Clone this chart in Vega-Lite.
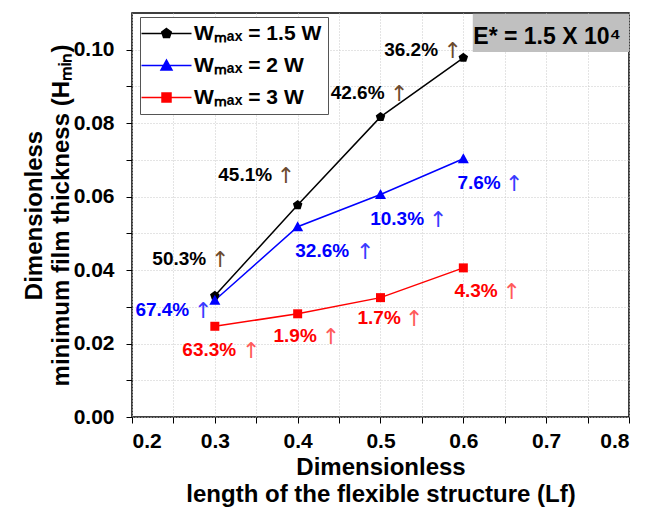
{
  "$schema": "https://vega.github.io/schema/vega-lite/v6.json",
  "width": 497,
  "height": 404,
  "autosize": "none",
  "padding": {"left": 132, "top": 13, "right": 20, "bottom": 92},
  "background": "white",
  "config": {
    "font": "Liberation Sans",
    "view": {"stroke": "black", "strokeWidth": 1.5},
    "axis": {
      "labelFont": "Liberation Sans", "labelFontSize": 21, "labelFontWeight": "bold", "labelColor": "black",
      "titleFont": "Liberation Sans", "titleFontSize": 24, "titleFontWeight": "bold", "titleColor": "black",
      "tickColor": "black", "tickSize": 6, "domain": false,
      "grid": true, "gridColor": "#c8c8c8", "gridDash": [1, 2], "gridWidth": 1
    }
  },
  "datasets": {
    "pts": [
      {"series": "Wₘₐₓ = 1.5 W", "x": 0.3, "y": 0.033},
      {"series": "Wₘₐₓ = 1.5 W", "x": 0.4, "y": 0.0577},
      {"series": "Wₘₐₓ = 1.5 W", "x": 0.5, "y": 0.0817},
      {"series": "Wₘₐₓ = 1.5 W", "x": 0.6, "y": 0.0978},
      {"series": "Wₘₐₓ = 2 W", "x": 0.3, "y": 0.0318},
      {"series": "Wₘₐₓ = 2 W", "x": 0.4, "y": 0.0518},
      {"series": "Wₘₐₓ = 2 W", "x": 0.5, "y": 0.0606},
      {"series": "Wₘₐₓ = 2 W", "x": 0.6, "y": 0.0703},
      {"series": "Wₘₐₓ = 3 W", "x": 0.3, "y": 0.0247},
      {"series": "Wₘₐₓ = 3 W", "x": 0.4, "y": 0.0281},
      {"series": "Wₘₐₓ = 3 W", "x": 0.5, "y": 0.0325},
      {"series": "Wₘₐₓ = 3 W", "x": 0.6, "y": 0.0406}
    ],
    "labels": [
      {"series": "Wₘₐₓ = 1.5 W", "label": "36.2%", "lx": 0.537, "ly": 0.0999, "ax": 0.5873},
      {"series": "Wₘₐₓ = 1.5 W", "label": "42.6%", "lx": 0.4724, "ly": 0.0882, "ax": 0.5225},
      {"series": "Wₘₐₓ = 1.5 W", "label": "45.1%", "lx": 0.3367, "ly": 0.0659, "ax": 0.3858},
      {"series": "Wₘₐₓ = 1.5 W", "label": "50.3%", "lx": 0.2571, "ly": 0.043, "ax": 0.3065},
      {"series": "Wₘₐₓ = 2 W", "label": "67.4%", "lx": 0.2366, "ly": 0.0291, "ax": 0.286},
      {"series": "Wₘₐₓ = 2 W", "label": "32.6%", "lx": 0.4296, "ly": 0.0453, "ax": 0.4815},
      {"series": "Wₘₐₓ = 2 W", "label": "10.3%", "lx": 0.5201, "ly": 0.0539, "ax": 0.5696},
      {"series": "Wₘₐₓ = 2 W", "label": "7.6%", "lx": 0.619, "ly": 0.0637, "ax": 0.6613},
      {"series": "Wₘₐₓ = 3 W", "label": "63.3%", "lx": 0.2933, "ly": 0.0182, "ax": 0.344},
      {"series": "Wₘₐₓ = 3 W", "label": "1.9%", "lx": 0.397, "ly": 0.022, "ax": 0.4401},
      {"series": "Wₘₐₓ = 3 W", "label": "1.7%", "lx": 0.4984, "ly": 0.0269, "ax": 0.5406},
      {"series": "Wₘₐₓ = 3 W", "label": "4.3%", "lx": 0.6154, "ly": 0.0343, "ax": 0.6585}
    ],
    "box": [
      {"x": 0.6114, "x2": 0.8, "y": 0.0994, "y2": 0.1098, "tx": 0.7011, "ty": 0.1036, "text": "E* = 1.5 X 10⁴"}
    ]
  },
  "layer": [
    {
      "data": {"name": "pts"},
      "mark": {"type": "line", "strokeWidth": 1.5},
      "encoding": {
        "x": {"field": "x", "type": "quantitative",
          "scale": {"domain": [0.2, 0.8], "nice": false, "zero": false},
          "axis": {
            "values": [0.2, 0.25, 0.3, 0.35, 0.4, 0.45, 0.5, 0.55, 0.6, 0.65, 0.7, 0.75, 0.8],
            "labelExpr": "round(datum.value*100)%10==0 ? format(datum.value,'.1f') : ''",
            "labelPadding": 7,
            "title": ["Dimensionless", "length of the flexible structure (Lf)"],
            "titleLineHeight": 27, "titlePadding": 4
          }},
        "y": {"field": "y", "type": "quantitative",
          "scale": {"domain": [0, 0.11], "nice": false},
          "axis": {
            "values": [0, 0.01, 0.02, 0.03, 0.04, 0.05, 0.06, 0.07, 0.08, 0.09, 0.1],
            "labelExpr": "round(datum.value*100)%2==0 ? format(datum.value,'.2f') : ''",
            "labelPadding": 12,
            "title": ["Dimensionless", "minimum film thickness (Hₘᵢₙ)"],
            "titleLineHeight": 27, "titlePadding": 0
          }},
        "color": {"field": "series", "type": "nominal",
          "scale": {"domain": ["Wₘₐₓ = 1.5 W", "Wₘₐₓ = 2 W", "Wₘₐₓ = 3 W"], "range": ["#000000", "#0000ff", "#ff0000"]},
          "legend": {
            "title": null, "orient": "none", "legendX": 8, "legendY": 4,
            "fillColor": "white", "strokeColor": "#555555", "padding": 6,
            "labelFont": "Liberation Sans", "labelFontSize": 21, "labelFontWeight": "bold", "labelColor": "black",
            "symbolSize": 100, "symbolOffset": 10, "labelOffset": 17, "rowPadding": 10,
            "symbolStrokeWidth": 1.5,
            "encode": {"symbols": {"update": {
              "shape": {"signal": "indexof(datum.label,'1.5')>=0 ? 'M-5,0H5M0,-1L0.951,-0.309L0.588,0.809L-0.588,0.809L-0.951,-0.309Z' : (indexof(datum.label,'2 W')>=0 ? 'M-5,0H5M0,-1.1L1.1,0.9L-1.1,0.9Z' : 'M-5,0H5M-0.9,-0.9H0.9V0.9H-0.9Z')"},
              "fill": {"scale": "color", "field": "value"},
              "stroke": {"scale": "color", "field": "value"},
              "strokeWidth": {"value": 1.5},
              "opacity": {"value": 1}
            }}}
          }}
      }
    },
    {
      "data": {"name": "pts"},
      "mark": {"type": "point", "filled": true, "opacity": 1, "size": 100},
      "encoding": {
        "x": {"field": "x", "type": "quantitative"},
        "y": {"field": "y", "type": "quantitative"},
        "color": {"field": "series", "type": "nominal"},
        "shape": {"condition": [
          {"test": "indexof(datum.series,'1.5')>=0", "value": "M0,-1L0.951,-0.309L0.588,0.809L-0.588,0.809L-0.951,-0.309Z"},
          {"test": "indexof(datum.series,'2 W')>=0", "value": "M0,-1.1L1.1,0.9L-1.1,0.9Z"}
        ], "value": "M-0.9,-0.9H0.9V0.9H-0.9Z"}
      }
    },
    {
      "data": {"name": "labels"},
      "mark": {"type": "text", "font": "Liberation Sans", "fontSize": 19, "fontWeight": "bold", "baseline": "middle", "align": "center"},
      "encoding": {
        "x": {"field": "lx", "type": "quantitative"},
        "y": {"field": "ly", "type": "quantitative"},
        "text": {"field": "label"},
        "color": {"field": "series", "type": "nominal"}
      }
    },
    {
      "data": {"name": "labels"},
      "mark": {"type": "text", "font": "DejaVu Sans", "fontSize": 22, "fontWeight": "normal", "baseline": "middle", "align": "center", "dy": 1},
      "encoding": {
        "x": {"field": "ax", "type": "quantitative"},
        "y": {"field": "ly", "type": "quantitative"},
        "text": {"value": "↑"},
        "color": {"condition": [
          {"test": "indexof(datum.series,'1.5')>=0", "value": "#6b4a2e"},
          {"test": "indexof(datum.series,'2 W')>=0", "value": "#3a3aff"}
        ], "value": "#ff5a5a"}
      }
    },
    {
      "data": {"name": "box"},
      "mark": {"type": "rect", "color": "#c0c0c0"},
      "encoding": {
        "x": {"field": "x", "type": "quantitative"},
        "x2": {"field": "x2"},
        "y": {"field": "y", "type": "quantitative"},
        "y2": {"field": "y2"}
      }
    },
    {
      "data": {"name": "box"},
      "mark": {"type": "text", "font": "Liberation Sans", "fontSize": 23, "fontWeight": "bold", "baseline": "middle", "align": "center", "color": "black"},
      "encoding": {
        "x": {"field": "tx", "type": "quantitative"},
        "y": {"field": "ty", "type": "quantitative"},
        "text": {"field": "text"}
      }
    }
  ]
}
